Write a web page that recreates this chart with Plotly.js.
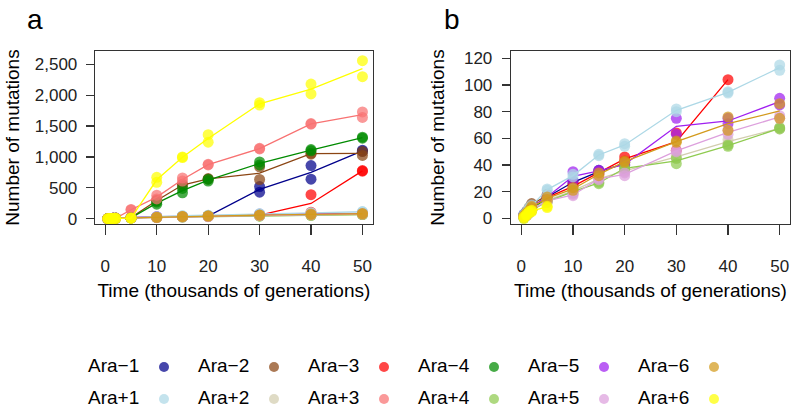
<!DOCTYPE html>
<html><head><meta charset="utf-8">
<script src="https://cdn.plot.ly/plotly-3.0.1.min.js"></script>
<style>html,body{margin:0;padding:0;background:#fff}#chart{width:800px;height:413px}</style>
</head><body><div id="chart"></div>
<script>
// Time points (thousands of generations)
const times = [0.5, 1, 1.5, 2, 5, 10, 15, 20, 30, 40, 50];
const popNames = ['Ara\u22121','Ara\u22122','Ara\u22123','Ara\u22124','Ara\u22125','Ara\u22126',
                  'Ara+1','Ara+2','Ara+3','Ara+4','Ara+5','Ara+6'];
const popColors = ['#00008B','#8B4513','#FF0000','#008B00','#A020F0','#D39A1C',
                   '#ADD8E6','#D2CDAE','#F87272','#8FCB4F','#DDA0DD','#FFFF00'];
// Number of mutations, two clones per population
const araM1_c1 = [3, 5, 7, 9, 17, 28, 36, 42, 520, 860, 1110];
const araM1_c2 = [2, 4, 6, 8, 15, 26, 34, 40, 430, 640, 1090];
const araM2_c1 = [2, 5, 8, 11, 18, 300, 560, 650, 840, 1060, 1090];
const araM2_c2 = [1, 4, 6, 10, 16, 290, 530, 640, 635, 1045, 1025];
const araM3_c1 = [2, 4, 6, 9, 16, 25, 35, 46, 64, 390, 780];
const araM3_c2 = [1, 3, 5, 8, 15, 23, 33, 43, 51, 104, 770];
const araM4_c1 = [2, 4, 6, 8, 15, 270, 490, 640, 920, 1120, 1320];
const araM4_c2 = [1, 3, 5, 7, 14, 235, 420, 610, 870, 1100, 1305];
const araM5_c1 = [2, 4, 6, 9, 17, 35, 36, 41, 75, 75, 90];
const araM5_c2 = [1, 3, 5, 8, 15, 28, 35, 40, 63, 71, 85];
const araM6_c1 = [2, 4, 6, 9, 16, 23, 34, 43, 58, 76, 86];
const araM6_c2 = [1, 3, 5, 8, 14, 21, 32, 42, 57, 66, 75];
const araP1_c1 = [3, 5, 8, 10, 22, 33, 48, 56, 82, 95, 115];
const araP1_c2 = [2, 4, 7, 9, 21, 31, 47, 54, 80, 94, 111];
const araP2_c1 = [1, 3, 5, 7, 14, 22, 30, 36, 47, 59, 68];
const araP2_c2 = [1, 2, 4, 6, 13, 19, 29, 35, 45, 56, 67];
const araP3_c1 = [1, 3, 5, 7, 150, 380, 660, 880, 1140, 1540, 1730];
const araP3_c2 = [1, 2, 4, 6, 140, 320, 610, 870, 1130, 1530, 1640];
const araP4_c1 = [1, 3, 4, 6, 13, 21, 27, 38, 45, 55, 68];
const araP4_c2 = [0, 2, 4, 6, 12, 19, 26, 37, 41, 54, 67];
const araP5_c1 = [1, 3, 5, 7, 14, 18, 30, 34, 51, 66, 77];
const araP5_c2 = [1, 2, 4, 6, 12, 17, 29, 32, 50, 63, 75];
const araP6_c1 = [1, 3, 5, 6, 9, 670, 1000, 1360, 1880, 2180, 2560];
const araP6_c2 = [0, 2, 4, 5, 8, 590, 990, 1240, 1840, 2020, 2300];
// index of first time point at which each clone is a mutator (11 = never)
const mutStart1 = [8, 5, 9, 5, 11, 11, 11, 11, 4, 11, 11, 5];
const mutStart2 = [8, 5, 10, 5, 11, 11, 11, 11, 4, 11, 11, 5];
// axis ticks
const ticksX = [0, 10, 20, 30, 40, 50];
const ticksYa = [0, 500, 1000, 1500, 2000, 2500];
const ticksYb = [0, 20, 40, 60, 80, 100, 120];

const clone1 = [araM1_c1, araM2_c1, araM3_c1, araM4_c1, araM5_c1, araM6_c1,
                araP1_c1, araP2_c1, araP3_c1, araP4_c1, araP5_c1, araP6_c1];
const clone2 = [araM1_c2, araM2_c2, araM3_c2, araM4_c2, araM5_c2, araM6_c2,
                araP1_c2, araP2_c2, araP3_c2, araP4_c2, araP5_c2, araP6_c2];

const drawOrder = [0,1,2,3,4,6,7,8,9,10,5,11];
const FONT = 'Liberation Sans, Arial, sans-serif';
const MS = 11, MOP = 0.72, LW = 1.3;
const traces = [];

drawOrder.forEach(i => {
  const c1 = clone1[i], c2 = clone2[i], col = popColors[i];
  // panel a: all clones
  const meanA = times.map((t, k) => (c1[k] + c2[k]) / 2);
  traces.push({x: times, y: meanA, mode: 'lines', xaxis: 'x', yaxis: 'y',
    line: {color: col, width: LW}, showlegend: false, hoverinfo: 'skip'});
  traces.push({x: times.concat(times), y: c1.concat(c2), mode: 'markers', xaxis: 'x', yaxis: 'y',
    marker: {color: col, size: MS, opacity: MOP}, showlegend: false, name: popNames[i]});
  // panel b: non-mutator clones only
  const bx = [], by = [], lx = [], ly = [];
  times.forEach((t, k) => {
    const vals = [];
    if (k < mutStart1[i]) vals.push(c1[k]);
    if (k < mutStart2[i]) vals.push(c2[k]);
    vals.forEach(v => { bx.push(t); by.push(v); });
    if (vals.length) { lx.push(t); ly.push(vals.reduce((a, b) => a + b, 0) / vals.length); }
  });
  traces.push({x: lx, y: ly, mode: 'lines', xaxis: 'x2', yaxis: 'y2',
    line: {color: col, width: LW}, showlegend: false, hoverinfo: 'skip'});
  traces.push({x: bx, y: by, mode: 'markers', xaxis: 'x2', yaxis: 'y2',
    marker: {color: col, size: MS, opacity: MOP}, showlegend: false, name: popNames[i]});
});

// custom legend (text followed by dot), 6 columns x 2 rows
const legCol = popNames.map((n, i) => i % 6);
const legRow = popNames.map((n, i) => i < 6 ? 1 : 0);
traces.push({x: legCol, y: legRow, text: popNames, mode: 'text', textposition: 'middle right',
  textfont: {family: FONT, size: 19, color: '#000'}, xaxis: 'x3', yaxis: 'y3',
  showlegend: false, hoverinfo: 'skip', cliponaxis: false});
traces.push({x: legCol.map(c => c + 0.691), y: legRow, mode: 'markers', xaxis: 'x3', yaxis: 'y3',
  marker: {color: popColors, size: 10, opacity: MOP}, showlegend: false, hoverinfo: 'skip', cliponaxis: false});

const common = {
  showline: true, mirror: true, linecolor: '#333', linewidth: 1.3,
  ticks: 'outside', tickcolor: '#333', tickwidth: 1.2,
  showgrid: false, zeroline: false,
  tickfont: {family: FONT, size: 17, color: '#222'}
};
const xcommon = Object.assign({}, common, {
  range: [-2, 52], tickmode: 'array', tickvals: ticksX, ticklen: 10, ticklabelstandoff: 16,
  title: {text: 'Time (thousands of generations)', font: {family: FONT, size: 19, color: '#000'}, standoff: 9}
});

const layout = {
  width: 800, height: 413,
  margin: {l: 0, r: 0, t: 0, b: 0},
  paper_bgcolor: '#fff', plot_bgcolor: '#fff',
  showlegend: false,
  font: {family: FONT},
  xaxis: Object.assign({}, xcommon, {domain: [0.1188, 0.4659], anchor: 'y'}),
  xaxis2: Object.assign({}, xcommon, {domain: [0.63875, 0.9875], anchor: 'y2'}),
  yaxis: Object.assign({}, common, {
    domain: [0.4576, 0.8765], anchor: 'x', range: [-86, 2716], tickmode: 'array',
    tickvals: ticksYa, tickformat: ',', ticklen: 8, ticklabelstandoff: 5,
    title: {text: 'Number of mutations', font: {family: FONT, size: 19, color: '#000'}, standoff: 10}
  }),
  yaxis2: Object.assign({}, common, {
    domain: [0.4576, 0.8765], anchor: 'x2', range: [-4.3, 125.5], tickmode: 'array',
    tickvals: ticksYb, ticklen: 8, ticklabelstandoff: 6,
    title: {text: 'Number of mutations', font: {family: FONT, size: 19, color: '#000'}, standoff: 14}
  }),
  xaxis3: {domain: [0, 1], anchor: 'y3', range: [-0.8, 6.4727], visible: false, fixedrange: true},
  yaxis3: {domain: [0, 0.2], anchor: 'x3', range: [-0.4375, 2.144], visible: false, fixedrange: true},
  annotations: [
    {text: 'a', xref: 'paper', yref: 'paper', x: 35 / 800, y: 1 - 19 / 413, xanchor: 'center', yanchor: 'middle',
     showarrow: false, font: {family: FONT, size: 28, color: '#000'}},
    {text: 'b', xref: 'paper', yref: 'paper', x: 452 / 800, y: 1 - 19 / 413, xanchor: 'center', yanchor: 'middle',
     showarrow: false, font: {family: FONT, size: 28, color: '#000'}}
  ]
};

Plotly.newPlot('chart', traces, layout, {displayModeBar: false, staticPlot: true});
</script></body></html>
